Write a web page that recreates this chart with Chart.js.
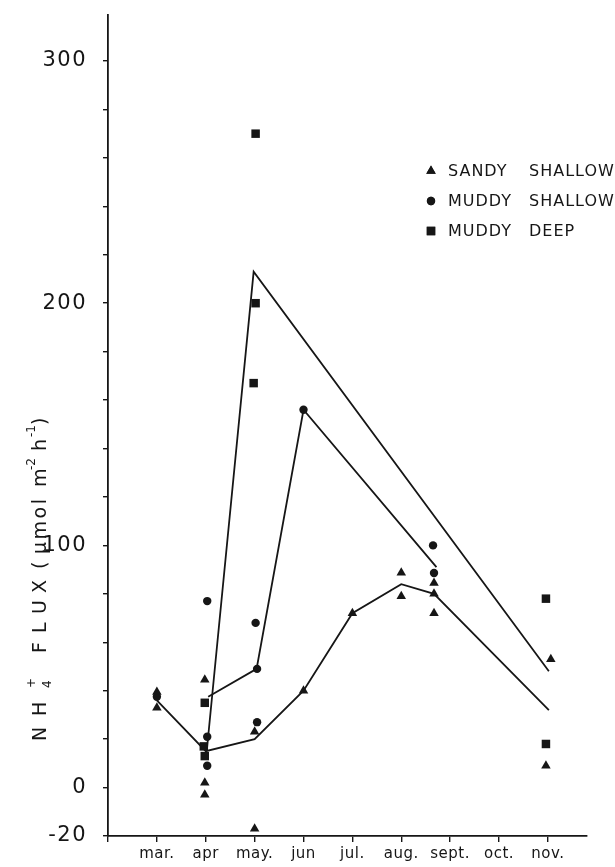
<!DOCTYPE html>
<html>
<head>
<meta charset="utf-8">
<script src="https://cdn.jsdelivr.net/npm/chart.js@4.4.1/dist/chart.umd.min.js"></script>
<style>
  html, body { margin: 0; padding: 0; background: #fff; }
  #c { display: block; }
</style>
</head>
<body>
<canvas id="c" width="615" height="867"></canvas>
<script>
// ---- data ----
const monthValues = [2, 3, 4, 5, 6, 7, 8, 9, 10, 11];
const monthLabels = ['', 'mar.', 'apr', 'may.', 'jun', 'jul.', 'aug.', 'sept.', 'oct.', 'nov.'];

const yTickValues = [-20, 0, 20, 40, 60, 80, 100, 120, 140, 160, 180, 200, 220, 240, 260, 280, 300];
const yLabelled = [-20, 0, 100, 200, 300];

const seriesLabels = ['SANDY  SHALLOW', 'MUDDY  SHALLOW', 'MUDDY  DEEP'];

// sandy shallow (triangles)
const sandyX = [3, 3, 3.98, 3.98, 3.98, 5, 5, 6, 7, 8, 8, 8.67, 8.67, 8.67, 11.06, 10.96];
const sandyY = [39.5, 33, 44.5, 2, -3, 23, -17, 40, 72, 88.7, 79, 84.5, 80, 72, 53, 9];

// muddy shallow (circles)
const mShallowX = [3, 4.03, 4.03, 4.03, 5.02, 5.05, 5.05, 6, 8.65, 8.67];
const mShallowY = [37.5, 77, 21, 9, 68, 49, 27, 156, 100, 88.6];

// muddy deep (squares)
const mDeepX = [3.98, 3.96, 3.98, 5.02, 5.02, 4.98, 10.96, 10.96];
const mDeepY = [35, 17, 13, 270, 200, 167, 78, 18];

// mean lines
const sandyLineX = [3, 4, 5, 6, 7, 8, 8.67, 11.02];
const sandyLineY = [36, 15, 20, 40, 72, 84, 80, 32];
const mShallowLineX = [4.05, 5.04, 6, 8.72];
const mShallowLineY = [37.5, 49, 156, 91];
const mDeepLineX = [4.02, 4.98, 11.02];
const mDeepLineY = [15, 213, 48];

// ---- helpers ----
const zip = (xs, ys) => xs.map((x, i) => ({ x: x, y: ys[i] }));
const INK = '#161616';
const SANS = '"DejaVu Sans", sans-serif';

function pointSet(label, xs, ys, style, r) {
  return {
    label: label, data: zip(xs, ys), showLine: false,
    pointStyle: style, pointRadius: r, pointHoverRadius: r,
    backgroundColor: INK, borderColor: INK, borderWidth: 0
  };
}
function lineSet(xs, ys) {
  return {
    label: '', data: zip(xs, ys), showLine: true, pointRadius: 0,
    borderColor: INK, borderWidth: 1.8, fill: false, tension: 0
  };
}

// letter spacing per scale for tick labels
const spacingPlugin = {
  id: 'spacing',
  beforeDraw(chart) {
    const ctx = chart.ctx;
    const ls = { x: '0.5px', y: '1.5px' };
    Object.keys(ls).forEach(id => {
      const s = chart.scales[id];
      if (s && !s._lsPatched) {
        const orig = s.drawLabels.bind(s);
        s.drawLabels = function (ca) {
          ctx.save();
          ctx.letterSpacing = ls[id];
          orig(ca);
          ctx.restore();
        };
        s._lsPatched = true;
      }
    });
  }
};

// y-axis title and legend
const decorPlugin = {
  id: 'decor',
  afterDraw(chart) {
    const ctx = chart.ctx;
    ctx.save();
    ctx.fillStyle = INK;
    ctx.textBaseline = 'alphabetic';
    ctx.textAlign = 'left';

    // rotated axis title: NH4+ FLUX ( μmol m-2 h-1)
    const big = '19px ' + SANS, small = '12px ' + SANS;
    const pieces = [
      { t: 'N', at: 0, f: big, dy: 0 },
      { t: 'H', at: 25, f: big, dy: 0 },
      { t: '4', at: 53, f: small, dy: 5 },
      { t: '+', at: 53, f: small, dy: -11 },
      { t: 'F', at: 88, f: big, dy: 0 },
      { t: 'L', at: 108, f: big, dy: 0 },
      { t: 'U', at: 127, f: big, dy: 0 },
      { t: 'X', at: 148, f: big, dy: 0 },
      { t: '(', at: 172, f: big, dy: 0 },
      { t: 'μmol', at: 187, f: big, dy: 0, ls: '2.5px' },
      { t: 'm', at: 254, f: big, dy: 0 },
      { t: '-2', at: 271, f: small, dy: -11 },
      { t: 'h', at: 290, f: big, dy: 0 },
      { t: '-1', at: 304, f: small, dy: -11 },
      { t: ')', at: 316, f: big, dy: 0 }
    ];
    ctx.save();
    ctx.translate(46, 741);
    ctx.rotate(-Math.PI / 2);
    pieces.forEach(p => {
      ctx.font = p.f;
      ctx.letterSpacing = p.ls || '0px';
      ctx.fillText(p.t, p.at, p.dy);
    });
    ctx.restore();

    // legend
    const rows = [171, 201, 231];
    const styles = ['triangle', 'circle', 'rect'];
    const radii = [5.5, 4.2, 6];
    ctx.font = '16px ' + SANS;
    ctx.letterSpacing = '1px';
    ctx.textBaseline = 'middle';
    chart.data.datasets.slice(0, 3).forEach((ds, i) => {
      const y = rows[i];
      Chart.helpers.drawPoint(ctx, { pointStyle: styles[i], radius: radii[i], rotation: 0, borderWidth: 0 }, 431, y);
      ctx.fillStyle = INK;
      ctx.fill();
      const words = ds.label.split(/\s+/);
      ctx.fillText(words[0], 448, y + 1);
      ctx.fillText(words[1], 529, y + 1);
    });
    ctx.restore();
  }
};

new Chart(document.getElementById('c'), {
  type: 'scatter',
  data: {
    datasets: [
      pointSet(seriesLabels[0], sandyX, sandyY, 'triangle', 5.5),
      pointSet(seriesLabels[1], mShallowX, mShallowY, 'circle', 4.2),
      pointSet(seriesLabels[2], mDeepX, mDeepY, 'rect', 6),
      lineSet(sandyLineX, sandyLineY),
      lineSet(mShallowLineX, mShallowLineY),
      lineSet(mDeepLineX, mDeepLineY)
    ]
  },
  options: {
    responsive: false,
    animation: false,
    devicePixelRatio: 1,
    layout: { padding: { top: 15, right: 28, left: 0, bottom: 0 } },
    plugins: { legend: { display: false }, tooltip: { enabled: false } },
    scales: {
      x: {
        type: 'linear', min: 2, max: 11.8,
        afterBuildTicks: s => { s.ticks = monthValues.map(v => ({ value: v })); },
        afterFit: s => { s.height = 31; s.paddingLeft = 0; s.paddingRight = 0; },
        ticks: {
          autoSkip: false, maxRotation: 0, minRotation: 0, padding: 3,
          color: INK, font: { family: SANS, size: 15 },
          callback: (v, i) => monthLabels[i]
        },
        grid: { drawOnChartArea: false, drawTicks: true, tickLength: 6, color: INK, lineWidth: 1.4 },
        border: { display: true, color: INK, width: 1.8 }
      },
      y: {
        type: 'linear', min: -20, max: 319,
        afterBuildTicks: s => { s.ticks = yTickValues.map(v => ({ value: v })); },
        afterFit: s => { s.width = 108; s.paddingTop = 0; s.paddingBottom = 0; },
        ticks: {
          autoSkip: false, padding: 16,
          color: INK, font: { family: SANS, size: 21 },
          callback: v => yLabelled.includes(v) ? String(v) : ''
        },
        grid: { drawOnChartArea: false, drawTicks: true, tickLength: 5, color: INK, lineWidth: 1.4 },
        border: { display: true, color: INK, width: 1.8 }
      }
    }
  },
  plugins: [spacingPlugin, decorPlugin]
});
</script>
</body>
</html>
